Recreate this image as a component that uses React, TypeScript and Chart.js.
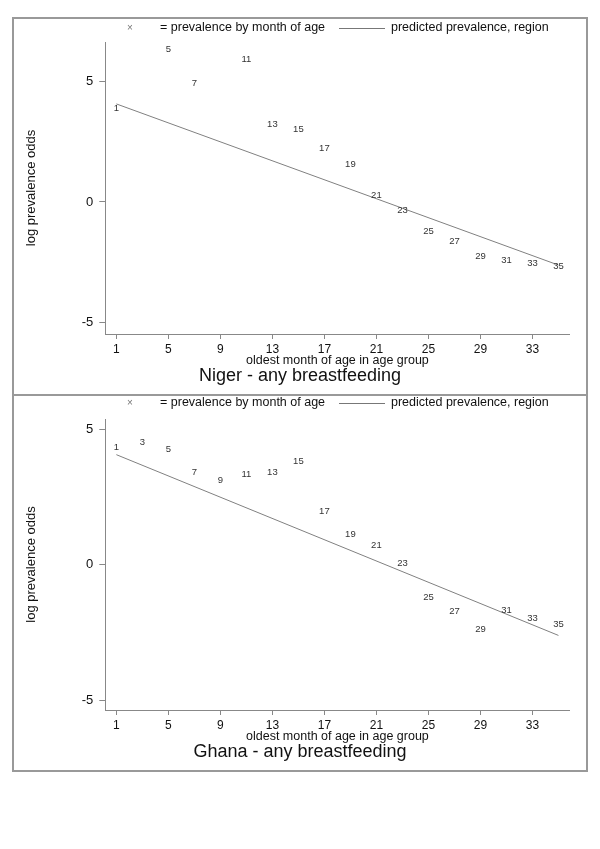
import React, { useEffect, useRef } from "react";
import { Chart, registerables } from "chart.js";

Chart.register(...registerables);

// ---- data ----
const nigerMonths = [1, 5, 7, 11, 13, 15, 17, 19, 21, 23, 25, 27, 29, 31, 33, 35];
const nigerLogOdds = [3.89, 6.35, 4.93, 5.92, 3.24, 3.0, 2.24, 1.58, 0.29, -0.33, -1.2, -1.62, -2.24, -2.41, -2.53, -2.66];
const ghanaMonths = [1, 3, 5, 7, 9, 11, 13, 15, 17, 19, 21, 23, 25, 27, 29, 31, 33, 35];
const ghanaLogOdds = [4.34, 4.52, 4.26, 3.42, 3.13, 3.35, 3.42, 3.82, 1.99, 1.14, 0.74, 0.04, -1.21, -1.73, -2.39, -1.69, -1.99, -2.21];
const predictedMonths = [1, 35];
const nigerPredicted = [4.07, -2.62];
const ghanaPredicted = [4.08, -2.61];
const xTickValues = [1, 5, 9, 13, 17, 21, 25, 29, 33];
const yTickValues = [-5, 0, 5];
const legendMarker = "×";
const legendLabels = ["= prevalence by month of age", "predicted prevalence, region"];
const xAxisTitle = "oldest month of age in age group";
const yAxisTitle = "log prevalence odds";
const nigerTitle = "Niger - any breastfeeding";
const ghanaTitle = "Ghana - any breastfeeding";

const FONT = "'Liberation Sans', Arial, Helvetica, sans-serif";

const pointLabelPlugin = {
  id: "pointLabels",
  afterDatasetsDraw(chart: any) {
    const meta = chart.getDatasetMeta(0);
    const ds = chart.data.datasets[0];
    const ctx = chart.ctx;
    ctx.save();
    ctx.font = `9.5px ${FONT}`;
    ctx.fillStyle = "#333";
    ctx.textAlign = "center";
    ctx.textBaseline = "middle";
    meta.data.forEach((el: any, i: number) => {
      const d = ds.data[i];
      ctx.fillText(String(d.x), el.x, el.y);
    });
    ctx.restore();
  },
};

const stataLegendPlugin = {
  id: "stataLegend",
  afterDraw(chart: any, _args: any, opts: any) {
    const ctx = chart.ctx;
    const y = opts.y ?? 8;
    ctx.save();
    ctx.textBaseline = "middle";
    ctx.textAlign = "center";
    ctx.fillStyle = "#777";
    ctx.font = `10px ${FONT}`;
    ctx.fillText(legendMarker, 116, y);
    ctx.textAlign = "left";
    ctx.fillStyle = "#111";
    ctx.font = `12.5px ${FONT}`;
    ctx.fillText(legendLabels[0], 146, y);
    ctx.strokeStyle = "#777";
    ctx.lineWidth = 1;
    ctx.beginPath();
    ctx.moveTo(325, y + 0.5);
    ctx.lineTo(371, y + 0.5);
    ctx.stroke();
    ctx.fillText(legendLabels[1], 377, y);
    ctx.restore();
  },
};

type PanelProps = {
  title: string;
  months: number[];
  values: number[];
  predicted: number[];
  yMin: number;
  yMax: number;
  width: number;
  height: number;
  legendY: number;
  style: React.CSSProperties;
};

function Panel(props: PanelProps) {
  const ref = useRef<HTMLCanvasElement | null>(null);
  useEffect(() => {
    if (!ref.current) return;
    const chart = new Chart(ref.current, {
      type: "scatter",
      data: {
        datasets: [
          {
            label: legendLabels[0],
            data: props.months.map((m, i) => ({ x: m, y: props.values[i] })),
            pointRadius: 0,
            showLine: false,
          },
          {
            label: legendLabels[1],
            data: predictedMonths.map((m, i) => ({ x: m, y: props.predicted[i] })),
            showLine: true,
            pointRadius: 0,
            borderColor: "#808080",
            borderWidth: 1,
          },
        ],
      },
      options: {
        animation: false,
        responsive: false,
        layout: { padding: { left: 0, right: 0, top: 22, bottom: 8 } },
        plugins: {
          legend: { display: false },
          tooltip: { enabled: false },
          title: {
            display: true,
            text: props.title,
            position: "bottom",
            color: "#111",
            padding: 0,
            font: { size: 18, family: FONT, weight: "normal", lineHeight: 1 },
          },
          stataLegend: { y: props.legendY },
        } as any,
        scales: {
          x: {
            type: "linear",
            min: 0.15,
            max: 35.85,
            afterBuildTicks: (s: any) => {
              s.ticks = xTickValues.map((v) => ({ value: v }));
            },
            afterFit: (s: any) => {
              s.height = 33;
            },
            ticks: {
              autoSkip: false,
              maxRotation: 0,
              padding: 3,
              color: "#111",
              font: { size: 12, family: FONT },
              callback: (v: any) => String(v),
            },
            grid: { display: true, drawOnChartArea: false, drawTicks: true, tickLength: 5, color: "#888" },
            border: { display: true, color: "#888", width: 1 },
            title: {
              display: true,
              text: xAxisTitle,
              color: "#111",
              padding: 0,
              font: { size: 12.5, family: FONT, lineHeight: 0.96 },
            },
          },
          y: {
            type: "linear",
            min: props.yMin,
            max: props.yMax,
            afterBuildTicks: (s: any) => {
              s.ticks = yTickValues.map((v) => ({ value: v }));
            },
            afterFit: (s: any) => {
              s.width = 91.3;
            },
            ticks: {
              padding: 6,
              color: "#111",
              font: { size: 13, family: FONT },
              callback: (v: any) => String(v),
            },
            grid: { display: true, drawOnChartArea: false, drawTicks: true, tickLength: 6, color: "#888" },
            border: { display: true, color: "#888", width: 1 },
            title: {
              display: true,
              text: yAxisTitle,
              color: "#111",
              padding: { top: 10, bottom: 0 },
              font: { size: 13, family: FONT },
            },
          },
          yRight: {
            type: "linear",
            position: "right",
            display: true,
            afterFit: (s: any) => {
              s.width = 16.5;
            },
            grid: { display: false },
            ticks: { display: false },
            border: { display: false },
          },
        },
      },
      plugins: [pointLabelPlugin, stataLegendPlugin],
    });
    return () => chart.destroy();
  }, []);
  return (
    <canvas
      ref={ref}
      width={props.width}
      height={props.height}
      style={{ position: "absolute", display: "block", width: props.width, height: props.height, ...props.style }}
    />
  );
}

export default function App() {
  return (
    <div style={{ position: "absolute", left: 0, top: 0, width: 600, height: 849, background: "#fff" }}>
      <div
        style={{
          position: "absolute",
          left: 12,
          top: 17,
          width: 576,
          height: 755,
          border: "2px solid #999",
          boxSizing: "border-box",
        }}
      />
      <div style={{ position: "absolute", left: 12, top: 394, width: 576, height: 2, background: "#999" }} />
      <Panel
        title={nigerTitle}
        months={nigerMonths}
        values={nigerLogOdds}
        predicted={nigerPredicted}
        yMin={-5.48}
        yMax={6.64}
        width={572}
        height={373}
        legendY={8}
        style={{ left: 14, top: 20 }}
      />
      <Panel
        title={ghanaTitle}
        months={ghanaMonths}
        values={ghanaLogOdds}
        predicted={ghanaPredicted}
        yMin={-5.37}
        yMax={5.4}
        width={572}
        height={372}
        legendY={6}
        style={{ left: 14, top: 397 }}
      />
    </div>
  );
}
